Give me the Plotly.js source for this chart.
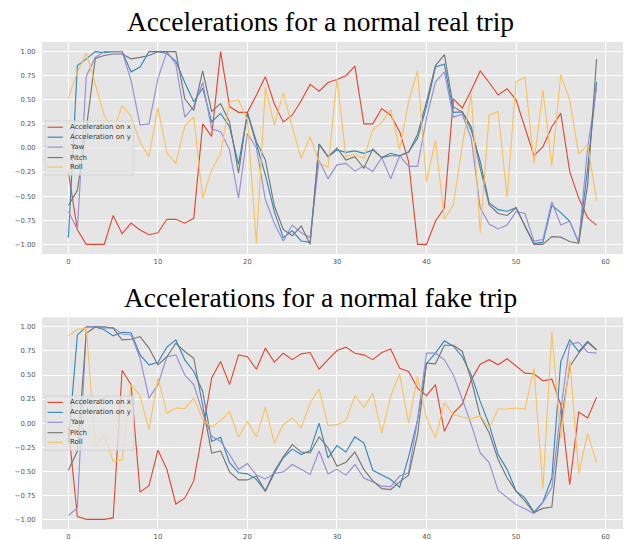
<!DOCTYPE html>
<html>
<head>
<meta charset="utf-8">
<script src="https://cdn.plot.ly/plotly-3.0.1.min.js"></script>
<style>html,body{margin:0;padding:0;background:#fff;}#chart{width:633px;height:540px;}</style>
</head>
<body>
<div id="chart"></div>
<script>
// ---- data ----
const steps = Array.from({length: 60}, (_, i) => i);
const seriesNames = ["Acceleration on x", "Acceleration on y", "Yaw", "Pitch", "Roll"];
const seriesColors = ["#E24A33", "#348ABD", "#988ED5", "#777777", "#FBC15E"];
const titles = ["Accelerations for a normal real trip", "Accelerations for a normal fake trip"];
const xTickVals = [0, 10, 20, 30, 40, 50, 60];
const yTickVals = [-1, -0.75, -0.5, -0.25, 0, 0.25, 0.5, 0.75, 1];
const yTickText = ["\u22121.00", "\u22120.75", "\u22120.50", "\u22120.25", "0.00", "0.25", "0.50", "0.75", "1.00"];

const realAccX = [-0.25,-0.85,-1.0,-1.0,-1.0,-0.70,-0.89,-0.78,-0.85,-0.90,
  -0.88,-0.74,-0.74,-0.78,-0.73,0.25,0.12,1.0,0.43,0.37,
  0.37,0.55,0.74,0.46,0.27,0.34,0.49,0.66,0.59,0.68,
  0.71,0.75,0.85,0.25,0.25,0.41,0.34,0.17,-0.14,-1.0,
  -1.0,-0.76,-0.62,0.51,0.415,0.60,0.80,0.68,0.55,0.615,
  0.50,0.21,-0.08,0.01,0.22,0.36,-0.245,-0.52,-0.725,-0.80];
const realAccY = [-0.93,0.855,0.925,1.0,0.99,1.0,1.0,0.79,0.84,1.0,
  1.0,0.98,0.90,0.68,0.48,0.62,0.27,0.36,0.22,-0.17,
  0.36,0.03,-0.28,-0.66,-0.93,-0.86,-0.965,-0.98,0.04,-0.09,
  -0.02,-0.045,-0.03,-0.055,-0.02,-0.10,-0.055,-0.08,-0.04,0.10,
  0.43,0.84,0.87,0.37,0.375,0.185,-0.14,-0.57,-0.64,-0.656,
  -0.62,-0.81,-0.99,-0.98,-0.595,-0.67,-0.76,-0.98,-0.21,0.684];
const realYaw = [-0.66,-0.845,0.745,0.94,1.0,1.0,1.0,0.70,0.24,0.25,
  0.72,1.0,0.87,0.32,0.43,0.68,0.20,0.17,-0.02,-0.52,
  0.15,0.0,-0.535,-0.78,-0.966,-0.80,-0.88,-0.93,-0.13,-0.32,
  -0.175,-0.16,-0.24,-0.185,-0.244,-0.10,-0.32,-0.08,-0.19,-0.19,
  0.31,0.684,0.79,0.32,0.35,0.10,-0.62,-0.79,-0.84,-0.80,
  -0.66,-0.68,-0.966,-0.95,-0.56,-0.80,-0.76,-0.98,0.0,0.63];
const realPitch = [-0.595,-0.44,0.2,0.93,0.96,0.975,0.975,0.925,0.94,0.96,
  1.0,1.0,1.0,0.51,0.39,0.80,0.38,0.46,0.27,-0.26,
  0.37,0.065,-0.124,-0.60,-0.845,-0.91,-0.81,-1.0,0.04,-0.09,
  0.0,-0.124,-0.09,-0.21,-0.01,-0.10,-0.08,-0.08,-0.045,0.14,
  0.48,0.855,0.97,0.426,0.375,0.22,-0.21,-0.59,-0.68,-0.70,
  -0.62,-0.81,-1.0,-1.0,-0.92,-0.925,-0.97,-0.99,-0.38,0.925];
const realRoll = [0.52,0.787,0.985,0.65,0.34,0.17,0.436,0.33,0.06,-0.09,
  0.416,-0.05,-0.16,0.23,0.32,-0.52,-0.227,-0.06,0.48,0.50,
  0.29,-0.99,0.63,0.237,0.574,0.22,-0.107,0.117,-0.15,-0.20,
  0.72,-0.09,-0.065,-0.107,0.19,0.265,0.40,-0.014,0.48,0.80,
  -0.35,0.08,-0.74,-0.59,0.03,0.56,-0.88,0.34,0.38,-0.51,
  0.69,0.735,-0.16,0.60,-0.185,0.76,0.495,-0.06,0.03,-0.546];

const fakeAccX = [-0.05,-0.97,-1.0,-1.0,-1.0,-0.985,0.55,0.40,-0.717,-0.65,
  -0.28,-0.48,-0.84,-0.78,-0.60,-0.085,0.47,0.64,0.40,0.71,
  0.69,0.56,0.78,0.634,0.727,0.66,0.72,0.734,0.56,0.66,
  0.755,0.79,0.727,0.71,0.66,0.734,0.77,0.57,0.537,0.364,
  0.285,0.40,-0.085,0.105,0.20,0.45,0.613,0.66,0.606,0.67,
  0.59,0.52,0.513,0.44,0.457,0.19,-0.64,0.116,0.054,0.27];
const fakeAccY = [-0.2,0.917,1.0,1.0,0.97,0.907,0.945,0.94,0.71,0.606,
  0.63,0.79,0.865,0.658,0.537,0.33,-0.19,-0.147,-0.41,-0.516,
  -0.527,-0.585,-0.706,-0.52,-0.36,-0.27,-0.326,-0.285,0.0,-0.36,
  -0.233,-0.30,-0.143,-0.205,-0.49,-0.54,-0.585,-0.665,-0.35,0.03,
  0.62,0.727,0.855,0.80,0.69,0.50,0.226,-0.016,-0.326,-0.48,
  -0.706,-0.776,-0.924,-0.82,-0.57,0.64,0.865,0.744,0.85,0.76];
const fakeYaw = [-0.96,-0.88,1.0,1.0,0.986,0.993,0.927,0.917,0.675,0.26,
  0.40,0.69,0.71,0.50,0.40,0.106,-0.137,-0.19,-0.326,-0.48,
  -0.42,-0.54,-0.58,-0.523,-0.506,-0.43,-0.48,-0.534,-0.29,-0.527,
  -0.48,-0.54,-0.43,-0.57,-0.61,-0.655,-0.66,-0.55,-0.516,0.036,
  0.727,0.727,0.658,0.50,0.25,-0.016,-0.31,-0.41,-0.70,-0.776,
  -0.845,-0.89,-0.94,-0.827,-0.67,0.14,0.82,0.84,0.737,0.727];
const fakePitch = [-0.49,-0.29,0.934,1.0,1.0,0.986,0.865,0.872,0.90,0.78,
  0.606,0.69,0.83,0.745,0.675,0.175,-0.31,-0.29,-0.506,-0.59,
  -0.59,-0.55,-0.706,-0.50,-0.35,-0.223,-0.30,-0.31,-0.143,-0.257,
  -0.447,-0.406,-0.30,-0.48,-0.60,-0.68,-0.69,-0.61,-0.54,-0.12,
  0.623,0.617,0.81,0.81,0.745,0.45,0.07,-0.10,-0.378,-0.568,
  -0.706,-0.81,-0.93,-0.886,-0.872,0.0,0.59,0.727,0.84,0.76];
const fakeRoll = [0.907,0.976,0.986,-0.247,-0.12,-0.395,-0.38,0.40,0.285,-0.067,
  0.47,0.105,0.157,0.15,0.26,0.036,-0.04,0.026,0.12,-0.147,
  0.02,-0.143,0.164,-0.205,-0.016,0.054,-0.05,0.21,0.354,-0.026,
  -0.016,0.026,0.285,0.164,0.31,-0.10,0.278,0.51,0.0,0.485,
  0.054,-0.154,0.21,0.09,0.064,0.043,0.078,-0.05,0.147,0.147,
  0.157,0.147,0.57,-0.68,0.95,-0.154,0.658,-0.516,-0.11,-0.41];

const realSeries = [realAccX, realAccY, realYaw, realPitch, realRoll];
const fakeSeries = [fakeAccX, fakeAccY, fakeYaw, fakePitch, fakeRoll];

// ---- traces ----
const traces = [];
[[realSeries, "x", "y"], [fakeSeries, "x2", "y2"]].forEach(([set, xa, ya]) => {
  set.forEach((vals, k) => {
    traces.push({
      x: steps, y: vals, type: "scatter", mode: "lines",
      name: seriesNames[k], xaxis: xa, yaxis: ya,
      line: {color: seriesColors[k], width: 1.15},
      showlegend: false, hoverinfo: "skip"
    });
  });
});

const tickFont = {family: "DejaVu Sans", size: 6.8, color: "#555555"};
function xAxis(anchor) {
  return {anchor: anchor, domain: [0, 1], range: [-2.95, 61.95], tickvals: xTickVals,
    ticktext: xTickVals.map(String), showgrid: true, gridcolor: "#FFFFFF", gridwidth: 1,
    zeroline: false, showline: false, ticks: "outside", ticklen: 1, tickcolor: "rgba(0,0,0,0)",
    tickfont: tickFont, fixedrange: true};
}
function yAxis(anchor, dom) {
  return {anchor: anchor, domain: dom, range: [-1.1, 1.1], tickvals: yTickVals, ticktext: yTickText,
    showgrid: true, gridcolor: "#FFFFFF", gridwidth: 1, zeroline: false, showline: false,
    ticks: "outside", ticklen: 4, tickcolor: "rgba(0,0,0,0)", tickfont: tickFont, fixedrange: true};
}

// ---- legends (drawn in axis-domain coordinates) ----
const shapes = [], annotations = [];
const entryY = [0.598, 0.551, 0.504, 0.455, 0.41];
[["x", "y"], ["x2", "y2"]].forEach(([xa, ya]) => {
  shapes.push({type: "rect", xref: xa + " domain", yref: ya + " domain",
    x0: 0.0057, x1: 0.158, y0: 0.372, y1: 0.628, layer: "above",
    fillcolor: "rgba(229,229,229,0.8)", line: {color: "rgba(204,204,204,0.8)", width: 0.8}});
  seriesNames.forEach((nm, k) => {
    shapes.push({type: "line", xref: xa + " domain", yref: ya + " domain",
      x0: 0.0095, x1: 0.036, y0: entryY[k], y1: entryY[k], layer: "above",
      line: {color: seriesColors[k], width: 1.15}});
    annotations.push({xref: xa + " domain", yref: ya + " domain", x: 0.045, y: entryY[k],
      xanchor: "left", yanchor: "middle", showarrow: false, text: nm,
      font: {family: "DejaVu Sans", size: 7, color: "#333333"}});
  });
});
annotations.push({xref: "paper", yref: "paper", x: 0.479, y: 1.043, xanchor: "center", yanchor: "middle",
  showarrow: false, text: titles[0], font: {family: "Liberation Serif", size: 27.5, color: "#000"}});
annotations.push({xref: "paper", yref: "paper", x: 0.479, y: 0.475, xanchor: "center", yanchor: "middle",
  showarrow: false, text: titles[1], font: {family: "Liberation Serif", size: 27.5, color: "#000"}});

const layout = {
  width: 633, height: 540,
  margin: {l: 42, r: 10, t: 42, b: 11, pad: 0},
  paper_bgcolor: "#FFFFFF", plot_bgcolor: "#E5E5E5",
  showlegend: false,
  xaxis: xAxis("y"), yaxis: yAxis("x", [0.5647, 1]),
  xaxis2: xAxis("y2"), yaxis2: yAxis("x2", [0, 0.4347]),
  shapes: shapes, annotations: annotations
};

Plotly.newPlot("chart", traces, layout, {displayModeBar: false, staticPlot: true});
</script>
</body>
</html>
